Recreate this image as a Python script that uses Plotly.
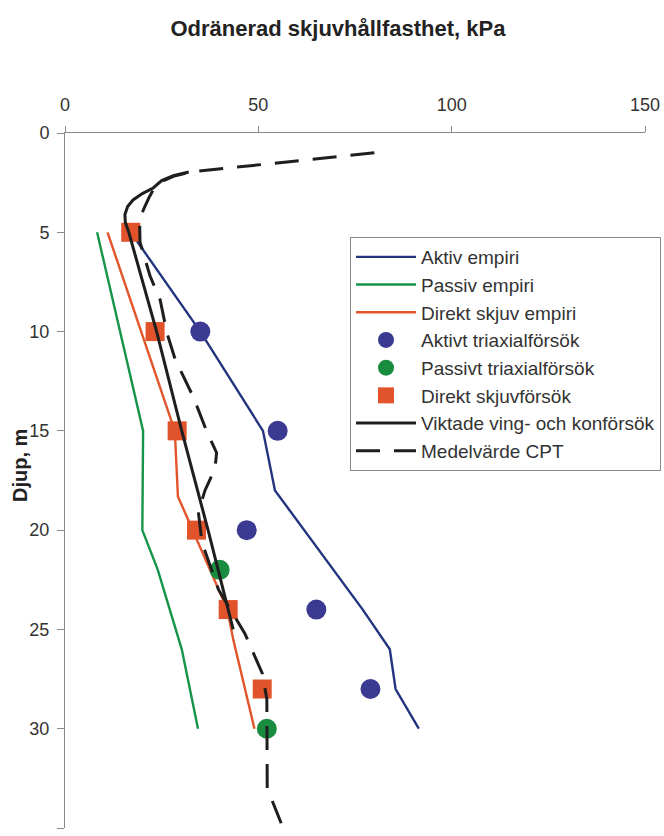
import plotly.graph_objects as go

# Empirical profiles (depth in m, undrained shear strength in kPa)
aktiv_djup = [5, 10, 15, 18, 24, 26, 28, 30]
aktiv_su = [17, 35, 51.2, 54.3, 77, 84, 85.5, 91.5]

passiv_djup = [5, 15, 20, 22, 26, 30]
passiv_su = [8.3, 20.2, 20.0, 24, 30.2, 34.4]

direkt_djup = [5, 15, 18.3, 24, 25.5, 30]
direkt_su = [11, 28.4, 29.2, 42, 43.5, 49]

# Laboratory tests
aktivt_tx_djup = [10, 15, 20, 24, 28]
aktivt_tx_su = [35, 55, 47, 65, 79]

passivt_tx_djup = [22, 30]
passivt_tx_su = [40, 52.2]

dss_djup = [5, 10, 15, 20, 24, 28]
dss_su = [17, 23.3, 29, 34, 42.2, 51]

# Field tests
vikt_djup = [1.96, 2.15, 2.4, 2.77, 3.05, 3.37, 3.7, 4.1, 4.5, 5, 10, 15, 20, 25]
vikt_su = [32, 28, 25, 22.8, 20, 17.6, 16.2, 15.5, 15.6, 16.5, 23.7, 30.2, 37, 43.5]

cpt_djup = [1.0, 1.82, 1.95, 2.15, 2.4, 2.8, 3.3, 3.9, 4.5, 5.5, 7.2, 8.4, 10.1, 11.4,
            13.3, 15, 16.1, 16.9, 18, 19.1, 20.6, 23, 25.2, 27.2, 28.5, 33, 35]
cpt_su = [80, 38, 33, 28.5, 25.5, 23, 21.6, 20.2, 19.3, 19.4, 22, 24.6, 26.4, 28.5,
          33.2, 36.6, 39.2, 38.8, 36.2, 34.5, 35.4, 39.7, 46.5, 51, 52.2, 52.3, 56.4]

x_ticks = [0, 50, 100, 150]
y_ticks = [0, 5, 10, 15, 20, 25, 30, 35]

FONT = "Liberation Sans, Arial, sans-serif"

fig = go.Figure()

fig.add_trace(go.Scatter(x=aktiv_su, y=aktiv_djup, mode="lines", name="Aktiv empiri",
                         line=dict(color="#24357f", width=2.4)))
fig.add_trace(go.Scatter(x=passiv_su, y=passiv_djup, mode="lines", name="Passiv empiri",
                         line=dict(color="#16944a", width=2.4)))
fig.add_trace(go.Scatter(x=direkt_su, y=direkt_djup, mode="lines", name="Direkt skjuv empiri",
                         line=dict(color="#e2542a", width=2.4)))
fig.add_trace(go.Scatter(x=aktivt_tx_su, y=aktivt_tx_djup, mode="markers",
                         name="Aktivt triaxialförsök",
                         marker=dict(symbol="circle", size=20, color="#3a3a92")))
fig.add_trace(go.Scatter(x=passivt_tx_su, y=passivt_tx_djup, mode="markers",
                         name="Passivt triaxialförsök",
                         marker=dict(symbol="circle", size=20, color="#1a8c40")))
fig.add_trace(go.Scatter(x=dss_su, y=dss_djup, mode="markers", name="Direkt skjuvförsök",
                         marker=dict(symbol="square", size=19, color="#e0532b")))
fig.add_trace(go.Scatter(x=vikt_su, y=vikt_djup, mode="lines",
                         name="Viktade ving- och konförsök",
                         line=dict(color="#1e1e1e", width=3)))
fig.add_trace(go.Scatter(x=cpt_su, y=cpt_djup, mode="lines", name="Medelvärde CPT",
                         line=dict(color="#1e1e1e", width=3, dash="24px,14px")))

fig.update_layout(
    width=664,
    height=836,
    margin=dict(l=65, r=19, t=133, b=8, autoexpand=False),
    paper_bgcolor="white",
    plot_bgcolor="white",
    font=dict(family=FONT, color="#333333", size=18),
    title=dict(text="<b>Odränerad skjuvhållfasthet, kPa</b>",
               x=0.509, xanchor="center", y=1 - 28 / 836, yanchor="middle",
               font=dict(family=FONT, size=22, color="#222222")),
    showlegend=True,
    legend=dict(
        x=0.4914, xanchor="left", y=(828 - 237) / 695, yanchor="top",
        bgcolor="white", bordercolor="#8a8a8a", borderwidth=1,
        font=dict(family=FONT, size=19, color="#333333"),
        itemwidth=60, traceorder="normal",
    ),
)

fig.update_xaxes(
    side="top", range=[0, 150], tickvals=x_ticks, ticktext=[str(v) for v in x_ticks],
    showgrid=False, zeroline=False, showline=True, linecolor="#8a8a8a", linewidth=1,
    ticks="outside", ticklen=6, tickcolor="#8a8a8a", ticklabelstandoff=8,
    tickfont=dict(family=FONT, size=18, color="#333333"),
)
fig.update_yaxes(
    range=[35, 0], tickvals=y_ticks, ticktext=[str(v) for v in y_ticks],
    showgrid=False, zeroline=False, showline=True, linecolor="#8a8a8a", linewidth=1,
    ticks="outside", ticklen=7, tickcolor="#8a8a8a", ticklabelstandoff=4,
    tickfont=dict(family=FONT, size=18, color="#333333"),
)

fig.add_annotation(
    text="<b>Djup, m</b>", textangle=-90, xref="paper", yref="paper",
    x=(20 - 65) / 580, y=(828 - 466) / 695, xanchor="center", yanchor="middle",
    showarrow=False, font=dict(family=FONT, size=20, color="#222222"),
)

fig.write_html("out.html")
